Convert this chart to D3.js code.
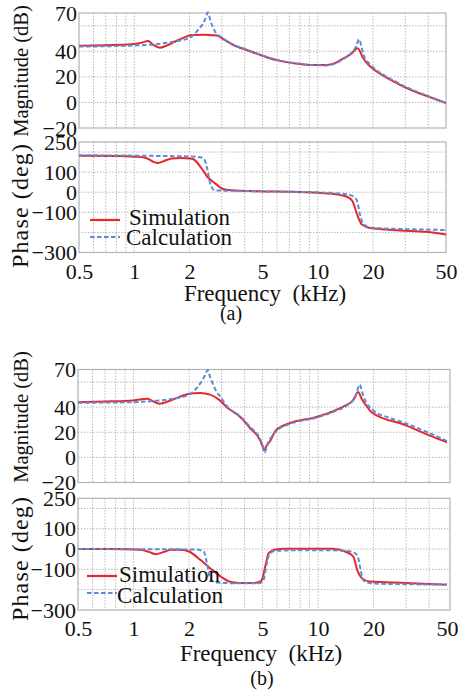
<!DOCTYPE html>
<html><head><meta charset="utf-8">
<script src="https://cdn.jsdelivr.net/npm/d3@7"></script>
</head><body style="margin:0;background:#fff">
<svg id="c" width="458" height="695" style="display:block"></svg>
<script>
// ---------- tick / grid values ----------
const xTicks=[0.5,1,2,5,10,20,50];
const xGrid=[0.6,0.7,0.8,0.9,1,2,3,4,5,6,7,8,9,10,20,30,40];
const magTicks=[70,40,20,0,-20];
const magGrid=[60,40,20,0];
const phaseTicks=[250,100,0,-100,-300];
const phaseGrid=[200,100,0,-100,-200];
const seriesNames=["Simulation","Calculation"];

// ---------- (a) magnitude ----------
const aMagSimF=[0.5,0.7,0.97,1.1,1.19,1.27,1.38,1.5,1.66,1.85,2.06,2.4,2.7,2.87,3.1,3.41,4.2,5.0,5.9,7.4,9.1,11.2,12.5,13.8,15.2,16.5,17.7,18.9,20,26,32,39,50];
const aMagSim=[44.4,44.8,45.5,46.8,48.1,45.0,42.8,44.5,47.5,50.5,52.8,53.0,52.6,52.0,49.0,45.5,40.5,36.6,33.3,30.7,29.4,29.4,31.0,34.5,38.0,42.4,34.6,29.4,26.3,16.3,9.8,5.2,-0.5];
const aMagCalF=[0.5,1.0,1.3,1.66,2.0,2.22,2.35,2.45,2.52,2.6,2.7,2.8,2.95,3.41,4.2,5.0,5.9,7.4,9.1,11.2,12.5,13.8,15.2,16.2,16.8,17.3,17.7,18.9,20,26,32,39,50];
const aMagCal=[43.7,44.6,45.5,47.8,50.5,56.5,61,66,70.5,64,58,54,51.5,45.8,40.8,36.8,33.6,30.8,29.3,29.0,30.5,34.0,38.5,44.0,49.4,44.0,38.0,31.0,27.5,17.0,10.5,5.5,-0.5];

// ---------- (a) phase ----------
const aPhSimF=[0.5,0.8,1.0,1.15,1.28,1.35,1.45,1.6,1.8,2.0,2.1,2.33,2.5,2.76,3.04,3.55,5.2,7,10,12,13.7,14.8,15.5,16.4,17.4,19.3,28,39,50];
const aPhSim=[181,180,177,172,150,146,155,168,170,168,164,118,77,44,16,8,4,2,-3,-8,-17,-28,-46,-112,-161,-178,-190,-197,-211];
const aPhCalF=[0.5,1.0,1.5,2.0,2.2,2.3,2.42,2.5,2.58,2.66,2.75,3.0,3.5,5.2,10,13,15,16.3,17.0,17.5,18.1,19.3,28,39,50];
const aPhCal=[184,182,180,178,176,174,160,115,52,20,10,8,7,4,-1,-6,-14,-38,-112,-150,-165,-176,-183,-186,-188];

// ---------- (b) magnitude ----------
const bMagSimF=[0.5,0.7,1.0,1.19,1.28,1.38,1.6,2.0,2.3,2.6,2.9,3.2,3.8,4.3,4.8,5.0,5.1,5.25,5.5,5.9,6.95,9.7,12.4,14.1,15.5,16.5,17.2,18.3,19.5,30,40,50];
const bMagSim=[44,44.5,45.4,46.8,44.5,42.8,45.5,50.7,51.3,50,46,40,32,23,15,9,5.6,9,13,21.5,27,32,37.5,41.4,45.5,52,47,41,36,25.5,17.5,12];
const bMagCalF=[0.5,1.0,1.3,1.6,2.0,2.22,2.35,2.45,2.52,2.6,2.7,2.8,2.95,3.2,3.8,4.3,4.8,5.05,5.15,5.3,5.6,6.0,7,10,12.5,14.5,16,16.8,17.5,18.2,19.5,25,30,40,50];
const bMagCal=[43.5,44,45,46.5,50,56,61,66,69.5,64,58,53,48.5,41,32.5,24,16,8,4.2,10,16.5,21.5,26.5,32,37,42,49,58,50,44,38.5,31,27,19.5,13];

// ---------- (b) phase ----------
const bPhSimF=[0.5,0.8,1.1,1.22,1.32,1.45,1.6,1.8,2.0,2.3,2.6,3.0,3.3,3.7,4.5,4.9,5.0,5.2,5.4,5.8,6.5,12,14,15.5,16.3,17.3,19,30,50];
const bPhSim=[0,0,-3,-15,-25,-15,-3,-3,-12,-53,-94,-138,-160,-167,-167,-158,-143,-77,-20,-3,2,2,-12,-36,-102,-143,-160,-167,-176];
const bPhCalF=[0.5,2.2,2.4,2.5,2.6,2.8,3.5,4.8,5.05,5.25,5.45,5.8,7,12,15,16.3,17.0,17.5,18.5,20,50];
const bPhCal=[0,-2,-12,-69,-143,-165,-168,-168,-155,-80,-25,-10,-6,-6,-12,-30,-100,-150,-165,-170,-175];

const RED="#e8262b", BLUE="#5b8dd3";
const FONT='"Liberation Serif"';
const svg=d3.select("#c");

function panel(p){
  const x=d3.scaleLog().domain([0.5,50]).range([p.x0,p.x1]);
  const y=d3.scaleLinear().domain(p.domain).range([p.y1,p.y0]);
  const g=svg.append("g");
  g.append("g").selectAll("line").data(xGrid).join("line")
    .attr("x1",d=>x(d)).attr("x2",d=>x(d)).attr("y1",p.y0).attr("y2",p.y1)
    .attr("stroke","#b9b9b9").attr("stroke-width",1).attr("stroke-dasharray","1.5,1.5");
  g.append("g").selectAll("line").data(p.grid).join("line")
    .attr("x1",p.x0).attr("x2",p.fx1).attr("y1",d=>y(d)).attr("y2",d=>y(d))
    .attr("stroke","#b9b9b9").attr("stroke-width",1).attr("stroke-dasharray","1.5,1.5");
  g.append("rect").attr("x",p.x0).attr("y",p.y0).attr("width",p.fx1-p.x0).attr("height",p.y1-p.y0)
    .attr("fill","none").attr("stroke","#b3b3b3").attr("stroke-width",1.2);
  const ya=d3.axisLeft(y).tickValues(p.ticks).tickSize(0).tickPadding(2).tickFormat(d3.format("d"));
  const yg=g.append("g").attr("transform",`translate(${p.x0},0)`).call(ya);
  yg.attr("font-family",null).attr("font-size",null);
  yg.select(".domain").remove();
  yg.selectAll("text").attr("font-size",22).style("font-family",FONT).attr("fill","#111");
  if(p.xlabels){
    const xa=d3.axisBottom(x).tickValues(xTicks).tickSize(0).tickPadding(0).tickFormat(d=>String(d));
    const xg=g.append("g").attr("transform",`translate(0,${p.xlabY-17})`).call(xa);
    xg.attr("font-family",null).attr("font-size",null);
    xg.select(".domain").remove();
    xg.selectAll("text").attr("font-size",22).style("font-family",FONT).attr("fill","#111");
  }
  const line=d3.line().x(d=>x(d[0])).y(d=>y(d[1])).curve(d3.curveMonotoneX);
  const clip="clip"+p.id;
  g.append("clipPath").attr("id",clip).append("rect").attr("x",p.x0).attr("y",p.y0-3).attr("width",p.fx1-p.x0).attr("height",p.y1-p.y0+6);
  const lg=g.append("g").attr("clip-path",`url(#${clip})`);
  lg.append("path").datum(d3.zip(p.simF,p.sim)).attr("d",line)
    .attr("fill","none").attr("stroke",RED).attr("stroke-width",2);
  lg.append("path").datum(d3.zip(p.calF,p.cal)).attr("d",line)
    .attr("fill","none").attr("stroke",BLUE).attr("stroke-width",2).attr("stroke-dasharray","4.5,2.5");
}

panel({id:1,x0:79,x1:446,fx1:446,y0:13,y1:128,domain:[-20,70],grid:magGrid,ticks:magTicks,
  simF:aMagSimF,sim:aMagSim,calF:aMagCalF,cal:aMagCal});
panel({id:2,x0:79,x1:446,fx1:446,y0:142,y1:252.5,domain:[-300,250],grid:phaseGrid,ticks:phaseTicks,
  simF:aPhSimF,sim:aPhSim,calF:aPhCalF,cal:aPhCal,xlabels:true,xlabY:280});
panel({id:3,x0:78,x1:447,fx1:450,y0:369.5,y1:482.5,domain:[-20,70],grid:magGrid,ticks:magTicks,
  simF:bMagSimF,sim:bMagSim,calF:bMagCalF,cal:bMagCal});
panel({id:4,x0:78,x1:447,fx1:450,y0:498.3,y1:610,domain:[-300,250],grid:phaseGrid,ticks:phaseTicks,
  simF:bPhSimF,sim:bPhSim,calF:bPhCalF,cal:bPhCal,xlabels:true,xlabY:637});

function vtitle(txt,cx,cy,fs,len,adj){
  const t=svg.append("text").attr("transform",`translate(${cx},${cy}) rotate(-90)`)
    .attr("text-anchor","middle").attr("font-size",fs).style("font-family",FONT).attr("fill","#111").text(txt);
  if(len) t.attr("textLength",len).attr("lengthAdjust",adj);
}
vtitle("Magnitude (dB)",28,71,20.5); vtitle("Phase (deg)",28,206,24,124,"spacing");
vtitle("Magnitude (dB)",28,417,20.5); vtitle("Phase (deg)",28,559,24,124,"spacing");

function htitle(txt,cx,by,fs){
  svg.append("text").attr("x",cx).attr("y",by).attr("text-anchor","middle")
    .attr("font-size",fs).style("font-family",FONT).attr("fill","#111").style("white-space","pre").text(txt);
}
htitle("Frequency  (kHz)",265,301,23); htitle("(a)",231,320,20);
htitle("Frequency  (kHz)",261,661,23); htitle("(b)",262,685,20);

function legend(l){
  svg.append("line").attr("x1",l.lx0).attr("x2",l.lx1).attr("y1",l.y1).attr("y2",l.y1)
    .attr("stroke",RED).attr("stroke-width",2.2);
  svg.append("text").attr("x",l.tx1).attr("y",l.b1).attr("font-size",23).style("font-family",FONT).attr("fill","#111").text(seriesNames[0]);
  svg.append("line").attr("x1",l.lx0).attr("x2",l.lx1).attr("y1",l.y2).attr("y2",l.y2)
    .attr("stroke",BLUE).attr("stroke-width",2).attr("stroke-dasharray","4.5,2.5");
  svg.append("text").attr("x",l.tx2).attr("y",l.b2).attr("font-size",23).style("font-family",FONT).attr("fill","#111").text(seriesNames[1]);
}
legend({lx0:90,lx1:120,y1:220,tx1:129,b1:225,y2:237,tx2:126,b2:245});
legend({lx0:87,lx1:117,y1:576,tx1:119,b1:582,y2:593,tx2:117,b2:603});
</script>
</body></html>
